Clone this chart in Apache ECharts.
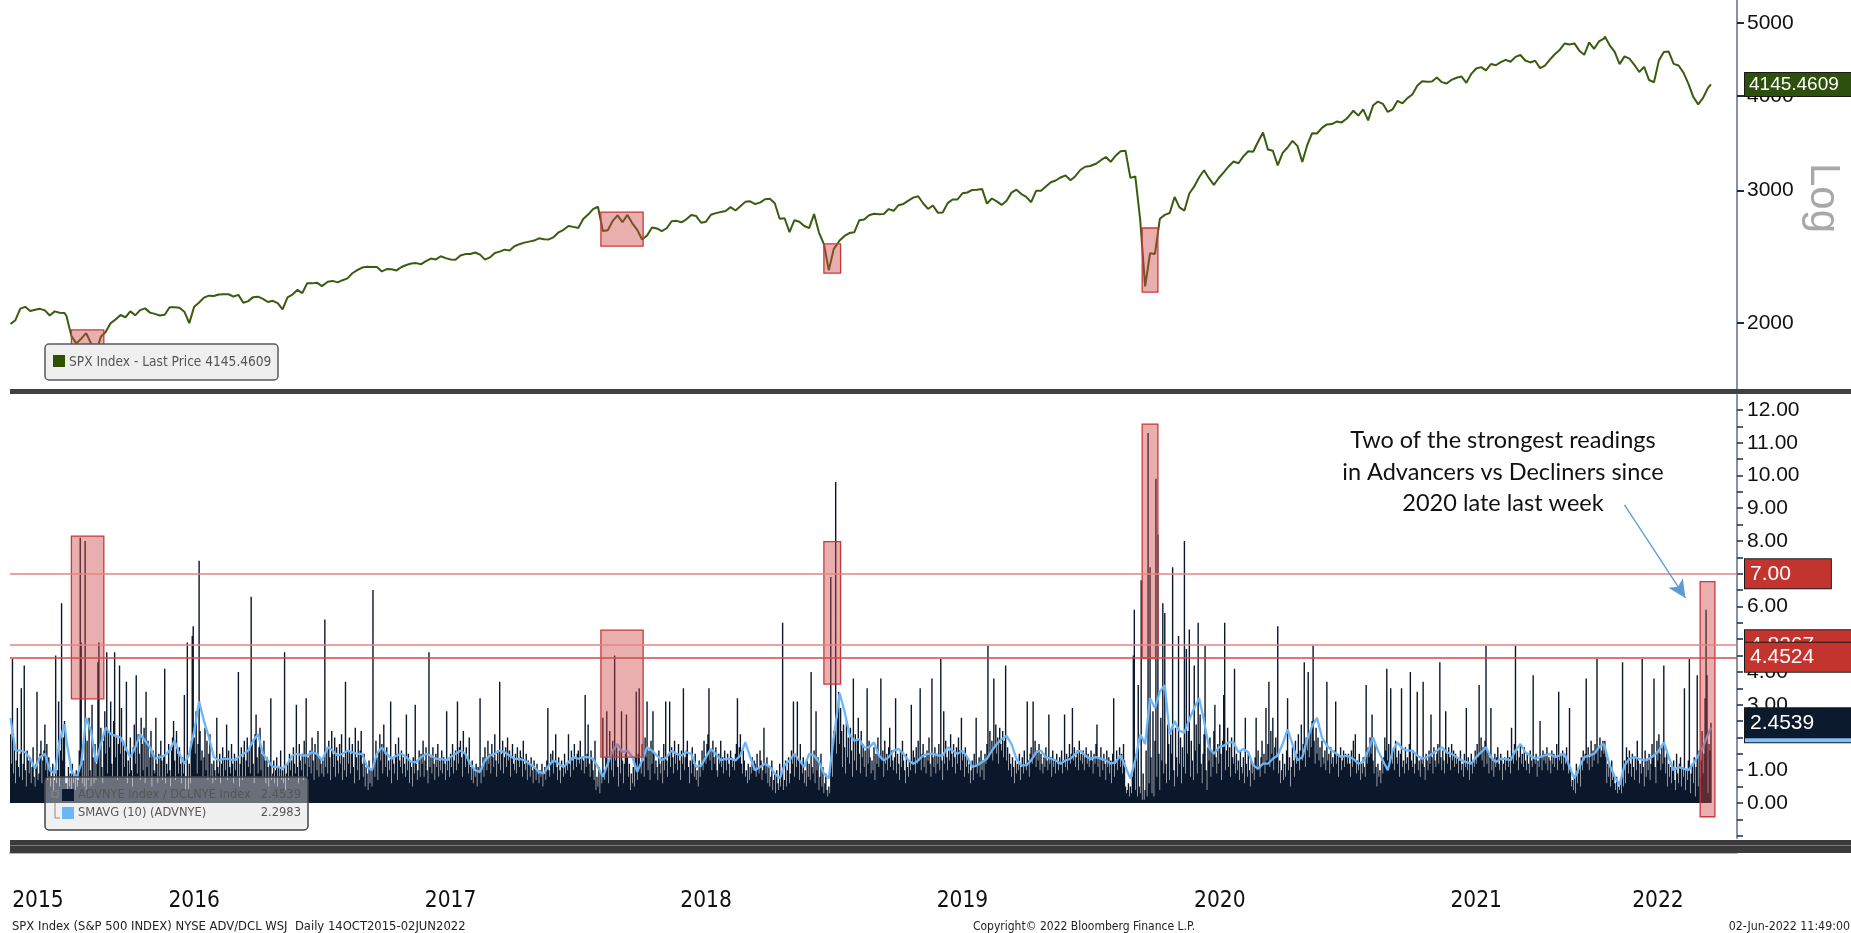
<!DOCTYPE html>
<html><head><meta charset="utf-8">
<script src="https://cdn.jsdelivr.net/npm/echarts@6.0.0/dist/echarts.min.js"></script>
<style>html,body{margin:0;padding:0;background:#fff;overflow:hidden}#c{width:1851px;height:933px}</style>
</head><body><div id="c"></div>
<script>
// ---------------- DATA ----------------
const years = [2015, 2016, 2017, 2018, 2019, 2020, 2021, 2022];
// NYSE advancers / decliners ratio, one value per weekday (2015 starts 14-Oct-2015)
const adv2015 = [2.1,1.2,4.4,0.9,1.8,0.6,1.3,2.9,1.1,0.8, 1.5,3.5,0.7,1.2,4.2,1.0,0.5,1.6,1.3,0.9, 1.4,0.6,1.1,1.7,0.8,0.5,1.2,3.4,0.7,0.9, 1.5,1.9,0.6,1.3,1.6,2.4,1.0,1.8,0.7,1.4, 1.1,0.5,0.8,1.2,0.4,0.7,4.5,0.6,1.0,3.1, 0.5,1.6,6.1,1.3,2.0,2.5,0.6];
const adv2016 = [0.6,0.4,1.1,0.5,0.9,0.3,1.2,0.6,0.8,0.4, 1.0,0.5,0.7,1.6,8.1,4.9,0.6,1.3,0.5,8.0, 0.4,1.9,0.7,2.6,1.0,0.5,3.0,1.4,0.6,1.8, 0.7,1.2,4.3,4.9,0.8,2.3,1.1,0.6,1.9,2.8, 1.5,4.6,0.9,2.2,1.7,3.1,1.2,0.8,2.5,4.6, 1.4,2.0,0.7,1.8,4.2,1.5,2.9,0.8,1.9,1.1, 1.6,3.7,0.6,1.3,0.9,2.0,1.0,0.5,1.7,2.4, 1.2,3.9,0.9,2.1,1.5,0.7,2.6,1.8,1.0,2.3, 0.6,3.4,1.1,1.9,0.8,1.4,2.2,0.5,1.6,1.0, 0.9,2.6,1.2,0.6,1.5,0.8,1.9,1.3,0.7,1.4, 4.1,0.6,1.2,0.9,1.8,1.0,0.5,1.6,2.0,2.5, 1.3,0.7,2.2,1.5,0.9,1.7,1.2,0.6,1.4,0.9, 3.3,0.4,0.8,4.9,0.3,1.2,0.6,1.9,5.1,5.4, 2.0,1.5,2.8,0.9,1.8,7.4,2.2,1.3,1.6,0.8, 1.4,2.3,1.0,1.9,0.7,1.5,2.1,0.8,1.2,0.6, 1.3,1.0,0.7,2.6,1.1,0.9,1.5,0.6,1.2,1.7, 0.8,1.4,1.0,2.4,0.7,1.6,1.1,0.9,1.8,1.2, 0.6,1.5,1.0,1.3,0.8,4.0,0.5,1.2,1.7,0.7, 1.4,1.9,0.8,1.3,2.0,1.1,1.6,0.9,6.3,1.8, 1.2,0.6,2.1,2.7,1.4,0.9,1.7,2.3,1.0,1.5, 0.8,1.9,1.3,0.6,1.4,1.1,0.5,1.2,3.2,0.7, 0.9,1.3,0.6,1.0,1.4,0.5,1.1,0.8,1.6,0.7, 1.0,0.6,4.6,0.4,0.9,1.2,0.7,1.5,1.0,1.3, 0.8,1.7,1.2,0.9,3.0,1.1,0.6,1.8,1.3,1.0, 1.5,0.7,1.9,1.2,3.2,0.8,1.4,1.1,1.6,0.9, 2.0,1.3,0.7,1.8,1.5,1.0,2.2,0.8,1.4,1.2, 0.9];
const adv2017 = [1.3,0.8,5.6,1.1,1.6,0.9,1.9,1.4,0.7,2.2, 1.5,1.1,2.0,0.8,1.7,1.3,0.9,1.8,1.2,2.1, 0.7,1.4,1.0,3.7,0.8,1.6,1.2,2.0,0.9,1.5, 1.8,1.1,0.6,2.3,1.4,1.0,1.9,0.7,1.6,2.2, 1.2,0.8,1.5,0.5,1.1,0.9,0.4,1.3,0.6,1.0, 0.5,6.5,1.2,0.8,1.9,1.4,0.7,1.6,2.1,1.3, 1.8,0.9,2.4,1.5,1.1,1.7,0.8,1.3,1.0,3.1, 0.6,1.4,1.2,0.9,1.8,1.5,0.7,2.0,1.3,1.1, 1.6,0.9,1.4,1.2,0.8,2.7,1.0,1.5,0.6,1.3, 1.1,0.5,1.4,0.9,3.0,1.2,0.7,1.0,1.6,0.8, 1.5,1.2,1.9,0.8,1.3,1.7,1.0,0.6,4.6,1.1, 1.4,0.9,1.7,1.2,0.7,1.5,1.1,1.8,0.8,1.3, 1.0,1.6,0.9,1.4,1.2,0.7,2.8,1.0,1.3,0.8, 1.5,1.1,1.8,0.9,1.3,1.6,1.0,3.1,1.2,1.7, 1.9,1.4,0.8,2.2,1.5,1.1,1.7,1.3,0.9,2.0, 1.1,0.7,1.3,0.6,1.0,0.8,1.2,0.5,1.1,0.9, 3.2,0.6,1.0,1.4,0.8,1.7,1.3,1.0,1.9,1.2, 1.5,0.9,1.8,1.4,1.1,2.1,1.3,0.8,1.6,1.2, 3.7,1.0,1.5,1.9,0.9,1.4,1.7,1.1,2.0,1.3, 1.6,0.8,1.4,1.8,1.2,1.0,1.5,0.9,1.7,1.3, 1.1,1.6,1.4,0.8,1.9,1.2,1.0,1.5,0.7,1.3, 1.2,0.8,1.4,1.0,0.6,1.3,1.1,0.7,1.2,0.9, 0.6,1.0,0.8,1.2,0.5,0.9,1.1,0.7,1.3,2.9, 1.0,0.8,1.5,1.2,1.6,0.9,1.3,2.1,1.1,0.7, 1.4,1.0,0.6,1.3,1.1,0.8,1.5,0.9,1.2,1.0, 2.1,1.2,0.8,1.6,1.3,1.0,1.8,1.4,1.1,1.5];
const adv2018 = [1.6,1.2,1.9,1.0,1.4,1.3,0.9,3.3,1.1,1.5, 2.4,1.2,0.8,1.6,1.3,1.0,0.7,1.9,0.4,0.8, 0.5,1.1,0.3,0.9,0.6,2.6,1.0,0.7,1.4,2.8, 1.2,0.6,2.2,1.5,1.0,1.9,0.8,4.5,1.3,1.7, 1.1,0.5,1.6,0.9,2.8,1.3,0.6,1.2,1.5,2.7, 1.4,0.8,1.2,0.4,0.9,0.6,1.1,0.5,1.4,3.4, 0.7,1.5,3.5,1.2,0.9,1.8,1.3,0.8,2.0,1.4, 3.1,1.0,1.6,0.7,1.9,1.2,2.8,1.5,0.9,1.3, 1.1,0.7,1.6,1.2,0.9,1.4,0.6,1.8,1.0,3.1, 1.3,0.8,1.5,3.1,1.1,1.7,1.4,0.9,1.9,1.2, 1.5,1.0,1.8,1.3,0.7,1.6,1.2,3.5,1.0,1.4, 1.6,1.9,1.1,0.6,1.3,0.9,1.7,1.2,0.8,1.5, 0.7,1.0,0.5,1.3,0.8,1.1,1.6,1.0,1.9,1.4, 1.2,1.8,2.1,3.5,1.3,1.6,1.0,1.9,1.4,1.2, 1.7,1.0,0.8,1.5,1.2,1.9,1.1,1.4,0.9,1.6, 1.3,1.0,1.5,1.2,0.8,1.6,1.4,1.1,1.3,1.0, 1.5,1.8,3.2,1.4,1.7,2.1,1.2,0.9,1.6,1.3, 0.8,1.0,0.6,1.2,0.7,1.1,0.9,1.4,1.0,1.3, 1.2,0.8,1.5,1.1,0.9,1.6,1.3,0.7,1.0,2.3, 1.2,0.9,1.4,0.6,1.1,0.5,0.8,1.3,0.4,0.7, 0.9,0.3,1.0,0.6,0.4,1.2,0.5,0.8,5.5,0.4, 0.7,1.3,0.5,1.0,1.4,0.6,0.9,1.6,1.2,3.1, 0.8,1.5,1.1,3.1,1.3,0.7,1.8,1.2,0.9,1.4, 0.6,1.0,0.5,1.3,0.8,1.2,0.7,4.0,1.1,0.9, 1.6,0.6,2.8,1.0,1.4,0.4,0.8,1.5,0.5,1.1, 0.3,0.6,0.9,0.4,0.2,0.5,0.3,6.9,1.5,0.8, 2.2];
const adv2019 = [2.1,9.8,1.5,2.6,3.4,1.8,2.9,2.2,1.1,2.4, 1.7,0.9,2.5,1.4,2.0,1.2,2.3,1.6,0.8,3.8, 1.3,2.1,1.0,1.9,2.6,1.5,0.9,2.2,1.4,1.8, 1.1,1.6,0.8,3.5,1.2,1.9,1.4,0.9,1.3,1.0, 1.7,0.7,1.5,1.2,2.0,1.1,1.4,3.8,1.3,1.6, 0.8,1.9,1.2,1.5,1.0,1.7,2.3,1.1,1.6,1.3, 1.0,1.4,3.2,0.9,1.5,1.2,0.7,1.6,1.1,1.9, 1.3,1.0,0.6,1.5,1.1,0.8,1.3,1.0,3.0,1.2, 1.6,1.4,0.9,1.7,1.2,1.9,1.3,3.5,1.0,1.5, 1.8,1.1,1.4,0.9,1.6,1.3,2.0,1.2,0.8,3.8, 1.4,1.1,1.7,0.9,1.5,1.2,1.8,1.0,4.4,1.3, 0.7,2.8,1.2,1.9,1.4,1.0,1.6,1.3,2.1,1.5, 1.1,1.8,1.4,0.9,1.7,1.2,2.0,1.6,1.0,2.6, 1.3,1.5,0.8,1.7,1.1,1.4,0.9,1.2,0.6,1.0, 1.3,0.7,1.5,1.1,2.6,0.9,1.2,1.4,0.8,1.6, 1.0,1.3,0.7,1.5,1.2,1.8,4.8,1.4,2.2,1.6, 1.9,1.3,3.8,1.7,2.4,1.5,2.0,1.2,2.3,1.8, 1.6,2.2,1.4,1.9,4.2,1.3,1.7,1.0,1.5,1.2, 0.8,1.4,1.1,0.6,1.3,0.9,1.2,1.0,1.5,0.7, 1.1,1.4,0.9,1.6,1.2,1.0,3.1,1.3,0.8,1.5, 1.7,1.2,3.1,1.4,1.9,1.1,1.6,1.3,1.8,1.0, 1.5,1.2,0.9,1.4,1.1,1.7,1.3,1.0,2.7,1.2, 1.4,0.8,1.6,1.1,1.3,0.9,1.5,1.2,1.0,1.4, 1.2,1.6,0.9,1.3,2.7,1.1,1.5,1.0,1.4,1.8, 1.2,1.5,2.9,1.3,1.7,1.1,1.4,1.6,1.0,1.9, 1.3,1.5,1.2,1.6,1.0,1.4,1.7,1.2,1.5,1.1, 1.3];
const adv2020 = [1.6,1.3,0.9,1.5,1.2,1.8,2.4,1.1,1.4,0.8, 1.7,1.3,1.0,1.5,1.2,0.7,1.6,1.1,1.4,0.9, 1.3,0.6,1.5,3.2,0.8,1.2,1.6,1.0,1.4,1.7, 1.1,1.5,0.9,1.8,1.3,0.5,0.3,0.4,0.6,0.2, 0.5,0.3,0.8,4.5,5.9,0.4,1.5,0.2,3.6,0.5, 0.3,6.8,0.1,0.9,0.1,0.4,1.6,0.2,11.3,0.6, 7.2,1.4,0.3,2.8,0.2,1.9,9.9,0.8,8.2,1.5, 0.4,2.6,1.3,6.1,0.9,5.8,1.2,0.6,2.4,1.8, 0.7,2.1,1.5,7.2,1.0,0.5,2.3,1.4,0.8,5.1, 1.2,2.0,0.6,1.7,1.1,8.0,0.9,4.7,1.5,2.2, 5.3,0.8,1.9,1.3,0.7,4.2,1.6,2.4,0.9,5.5, 1.8,2.7,1.2,0.6,1.5,2.1,4.8,1.0,0.4,1.7, 1.3,2.0,0.8,1.6,1.1,2.2,3.0,1.4,0.9,1.8, 1.2,2.4,1.5,0.7,1.9,3.3,5.5,1.0,1.6,2.3, 1.1,1.7,0.8,2.0,1.4,1.2,4.1,0.9,1.5,1.0, 1.3,0.7,1.6,1.1,0.9,1.4,0.6,2.6,1.2,0.8, 1.5,1.0,0.5,1.3,0.9,1.2,0.7,1.4,2.6,1.0, 1.6,1.1,0.8,1.4,1.9,1.2,1.5,0.9,2.9,1.3, 1.8,3.7,1.1,2.2,1.5,2.6,1.0,1.7,2.0,1.4, 5.4,0.9,1.3,0.6,1.0,1.5,0.7,1.2,0.8,1.6, 3.2,1.0,1.4,0.5,1.1,1.7,1.3,0.8,1.9,1.2, 1.5,2.1,1.0,1.6,2.4,1.3,1.8,4.3,1.1,2.0, 1.6,4.0,1.4,2.2,1.7,2.5,4.8,1.9,1.2,2.3, 1.5,2.0,1.3,1.7,1.1,1.9,1.4,1.2,1.6,1.0, 3.7,1.3,1.5,0.9,1.7,1.2,1.4,1.1,1.6,3.1, 1.2,1.5,0.8,1.4,1.7,1.0,1.3,1.6,1.1,1.5, 1.4,1.2];
const adv2021 = [1.5,1.2,0.8,1.6,1.1,1.9,1.4,2.1,0.9,1.3, 1.0,1.5,0.7,1.2,0.9,1.4,1.1,0.8,3.6,1.2, 1.7,1.4,2.0,1.5,2.7,1.3,0.9,1.8,1.1,0.5, 1.2,0.8,1.0,0.6,1.3,0.9,1.4,2.0,1.6,4.1, 1.3,1.8,1.1,3.5,1.5,1.2,1.7,1.0,1.9,1.4, 1.2,1.6,0.8,1.5,3.5,1.1,1.3,0.9,1.7,1.2, 1.4,1.0,1.8,4.0,1.3,1.1,1.6,0.9,1.2,1.5, 3.4,1.0,1.3,0.8,1.4,1.2,3.7,1.1,0.7,1.5, 1.3,1.0,1.6,1.2,2.7,1.4,0.9,1.7,1.3,1.1, 1.5,1.8,1.2,4.3,1.4,1.0,1.6,1.3,0.9,2.8, 1.5,1.2,1.7,1.4,1.0,1.8,1.3,1.6,1.1,1.5, 1.2,1.4,0.9,1.3,1.6,1.0,1.2,0.8,1.5,1.1, 2.9,1.0,1.4,0.7,1.2,1.5,0.9,1.3,1.1,1.6, 1.2,1.8,1.4,3.6,1.5,2.0,1.3,1.7,1.1,1.9, 4.8,1.2,1.6,0.9,1.4,2.9,1.0,1.3,0.8,1.5, 1.1,1.4,1.7,1.2,1.0,1.5,1.3,0.7,1.2,1.4, 1.0,1.3,1.6,1.1,1.4,0.9,2.3,1.5,1.2,1.8, 4.8,1.3,1.6,1.0,1.4,1.8,1.2,1.5,1.1,1.7, 1.3,1.0,1.5,1.2,0.9,1.6,1.3,1.1,3.9,1.4, 1.2,1.5,0.8,1.3,1.1,2.5,1.4,1.0,1.6,1.3, 1.5,1.2,1.7,1.0,1.4,1.3,0.9,1.6,1.2,1.5, 1.1,1.4,1.8,1.0,3.4,1.3,1.5,1.2,1.6,1.0, 1.4,1.2,1.7,1.3,0.9,2.9,1.1,0.5,0.7,0.4, 0.8,0.3,1.2,0.6,0.9,1.1,0.5,1.4,1.0,1.6, 1.3,1.5,3.8,1.2,1.7,1.0,1.4,1.9,1.1,1.6, 1.3,1.8,1.5,4.4,1.2,1.7,2.0,1.4,1.6,1.9, 1.5];
const adv2022 = [1.9,1.4,0.6,1.2,0.8,1.1,0.5,1.3,0.7,0.9, 0.6,0.4,0.8,0.3,0.5,0.4,0.7,0.3,4.3,0.5, 1.3,0.6,1.7,1.4,0.9,1.6,1.2,0.8,1.5,1.1, 0.7,1.4,1.0,1.9,1.3,0.6,1.2,0.9,4.4,1.1, 0.5,1.6,0.8,1.3,1.0,1.5,0.7,1.2,1.8,1.4, 3.8,1.1,0.6,1.9,1.3,2.1,1.5,1.0,1.7,1.2, 4.2,1.4,0.9,1.6,0.5,1.2,0.8,1.1,0.6,1.0, 1.3,0.7,0.4,1.5,0.9,0.6,1.2,1.4,0.5,1.1, 0.8,3.5,0.4,1.0,0.7,1.3,4.4,0.3,0.9,1.2, 0.6,1.4,0.2,1.1,3.9,0.5,1.6,0.8,1.3,2.2, 0.9,1.5,3.2,5.9,3.9,0.3,1.8,1.6,2.4539];
// SMAVG(10) of the ratio, read weekly (every 5th weekday from the start of each year)
const sma2015 = [2.6,1.6,1.6,1.55,1.35,1.05,1.4,1.5,1.0,0.9,1.9,2.4];
const sma2016 = [1.9,1.0,0.75,1.2,2.6,2.2,1.25,1.8,2.3,2.1,2.05,2.0,1.7,1.4,1.7,2.1,1.9,1.7,1.35,1.4,1.45,1.6,1.9,1.5,1.2,1.5,2.2,3.1,2.5,2.0,1.4,1.3,1.35,1.35,1.3,1.4,1.5,1.6,1.9,2.1,1.5,1.3,1.1,1.1,1.05,1.2,1.45,1.5,1.45,1.45,1.55,1.5,1.3];
const sma2017 = [1.25,1.7,1.6,1.45,1.5,1.6,1.55,1.5,1.5,1.1,1.0,1.5,1.7,1.5,1.35,1.45,1.5,1.4,1.25,1.25,1.4,1.5,1.45,1.35,1.35,1.3,1.4,1.5,1.6,1.5,1.2,1.0,0.95,1.3,1.45,1.5,1.6,1.55,1.45,1.35,1.35,1.3,1.2,1.1,0.95,0.9,1.15,1.3,1.2,1.1,1.25,1.4];
const sma2018 = [1.35,1.4,1.4,1.35,1.1,0.8,1.2,1.6,1.8,1.55,1.6,1.4,0.95,1.3,1.7,1.6,1.45,1.3,1.4,1.6,1.5,1.45,1.55,1.5,1.1,1.15,1.4,1.65,1.5,1.3,1.35,1.35,1.3,1.45,1.85,1.4,1.0,1.1,1.2,1.1,0.9,0.75,1.15,1.3,1.5,1.3,1.1,1.5,1.45,1.25,0.9,0.75,2.0];
const sma2019 = [2.2,3.35,2.8,2.1,1.9,1.95,1.7,1.7,1.85,1.45,1.3,1.4,1.6,1.65,1.5,1.3,1.2,1.3,1.45,1.5,1.5,1.45,1.45,1.7,1.6,1.5,1.6,1.4,1.1,1.15,1.25,1.35,1.6,1.8,1.95,2.05,1.8,1.35,1.15,1.15,1.3,1.55,1.6,1.4,1.35,1.3,1.2,1.3,1.35,1.5,1.6,1.45,1.35];
const sma2020 = [1.35,1.4,1.35,1.3,1.2,1.25,1.45,1.1,0.75,1.3,2.1,1.8,3.2,2.9,3.4,3.6,2.1,2.5,2.2,2.15,2.55,2.9,3.2,2.5,1.7,1.5,1.7,1.75,1.85,1.85,1.55,1.65,1.55,1.15,1.05,1.2,1.2,1.35,1.45,1.8,2.25,1.8,1.3,1.4,1.95,2.35,2.6,2.0,1.75,1.6,1.5,1.4,1.45];
const sma2021 = [1.45,1.35,1.2,1.25,1.6,2.0,1.6,1.3,1.0,1.6,1.85,1.65,1.6,1.6,1.45,1.35,1.4,1.5,1.6,1.7,1.55,1.5,1.4,1.3,1.25,1.2,1.4,1.55,1.7,1.4,1.25,1.35,1.35,1.3,1.6,1.8,1.55,1.45,1.35,1.4,1.45,1.5,1.4,1.45,1.5,1.1,0.75,1.1,1.4,1.45,1.5,1.7,1.8];
const sma2022 = [1.75,1.15,0.8,0.55,1.15,1.35,1.4,1.35,1.3,1.35,1.45,1.6,1.85,1.4,1.0,1.1,1.05,1.0,1.2,1.45,1.7,2.1];
const smaLast = 2.2983;
const advLast = 2.4539;
// SPX Index, weekly (every 5th weekday from the start of each year)
const spx2015 = [1994,2018,2090,2102,2075,2083,2089,2079,2047,2073,2064,2063];
const spx2016 = [2044,1922,1880,1907,1940,1880,1829,1918,1948,2000,2022,2050,2036,2073,2048,2081,2092,2065,2057,2047,2052,2099,2099,2096,2071,2000,2103,2130,2162,2175,2173,2183,2184,2184,2169,2180,2128,2139,2165,2168,2153,2133,2141,2126,2085,2164,2182,2213,2192,2259,2258,2263,2239];
const spx2017 = [2239,2269,2275,2265,2280,2293,2329,2351,2370,2375,2373,2374,2342,2359,2357,2349,2374,2388,2399,2402,2394,2416,2436,2429,2453,2439,2429,2427,2459,2469,2470,2481,2465,2428,2444,2477,2488,2503,2497,2529,2545,2557,2565,2573,2591,2584,2582,2601,2639,2659,2690,2683];
const spx2018 = [2674,2748,2786,2833,2853,2649,2656,2732,2779,2721,2783,2712,2658,2582,2613,2678,2670,2648,2672,2730,2733,2721,2746,2782,2773,2717,2726,2784,2798,2807,2817,2850,2821,2857,2896,2901,2877,2889,2919,2924,2884,2750,2755,2641,2738,2726,2690,2673,2790,2637,2546,2351,2507];
const spx2019 = [2507,2574,2610,2633,2640,2737,2744,2780,2793,2789,2791,2833,2818,2867,2878,2907,2934,2946,2884,2834,2864,2802,2803,2885,2917,2917,2973,2980,3004,3005,3013,2881,2926,2900,2869,2906,2979,3006,2966,2940,2893,2995,2996,3036,3075,3091,3120,3140,3093,3132,3192,3224,3231];
const spx2020 = [3231,3253,3289,3321,3273,3334,3379,3386,3116,3130,2741,2237,2475,2470,2750,2783,2799,2939,2848,2820,2971,3036,3122,3190,3113,3050,3115,3169,3227,3276,3258,3328,3380,3375,3479,3580,3399,3385,3237,3363,3419,3489,3436,3271,3443,3572,3568,3630,3669,3672,3701,3691,3732];
const spx2021 = [3756,3825,3768,3841,3714,3886,3934,3907,3811,3842,3943,3913,3975,4020,4129,4185,4180,4181,4233,4174,4156,4204,4230,4247,4166,4281,4352,4370,4327,4412,4395,4437,4468,4442,4509,4535,4459,4433,4455,4357,4391,4471,4545,4605,4697,4683,4698,4595,4538,4712,4620,4726,4766];
const spx2022 = [4797,4670,4577,4410,4516,4484,4401,4305,4374,4201,4173,4461,4576,4583,4413,4391,4297,4155,3991,3900,3979,4101];
const spxLast = 4145.4609;
// axis ticks and reference levels
const yTicksTop = [2000, 3000, 4000, 5000];
const yTicksBottom = [0,1,2,3,4,5,6,7,8,9,10,11,12];
const levels = [7.00, 4.8267, 4.4524];
// highlighted boxes: [from, to, low, high]
const topBoxes = [['2016-01-08','2016-02-24',1798,1959],['2018-02-01','2018-04-03',2530,2807],['2018-12-17','2019-01-09',2330,2547],['2020-03-13','2020-04-06',2199,2674]];
const bottomBoxes = [['2016-01-08','2016-02-24',3.18,8.15],['2018-02-01','2018-04-03',1.4,5.28],['2018-12-17','2019-01-09',3.63,7.98],['2020-03-13','2020-04-06',4.42,11.57],['2022-05-18','2022-06-08',-0.42,6.76]];
const arrowFrom = ['2022-01-31', 9.1];
const arrowTo = ['2022-04-27', 6.26];

// ---------------- BUILD ----------------
const advBy = {2015:adv2015,2016:adv2016,2017:adv2017,2018:adv2018,2019:adv2019,2020:adv2020,2021:adv2021,2022:adv2022};
const smaBy = {2015:sma2015,2016:sma2016,2017:sma2017,2018:sma2018,2019:sma2019,2020:sma2020,2021:sma2021,2022:sma2022};
const spxBy = {2015:spx2015,2016:spx2016,2017:spx2017,2018:spx2018,2019:spx2019,2020:spx2020,2021:spx2021,2022:spx2022};
function ymd(d){return d.getUTCFullYear()+'-'+String(d.getUTCMonth()+1).padStart(2,'0')+'-'+String(d.getUTCDate()).padStart(2,'0');}
const cats = []; const yearStart = {}; const quarterSet = new Set(); const yearSet = new Set();
let lastMonth = -1;
for (let t = Date.UTC(2015,9,14); t <= Date.UTC(2022,6,8); t += 86400000) {
  const d = new Date(t); const wd = d.getUTCDay();
  if (wd === 0 || wd === 6) continue;
  const y = d.getUTCFullYear(), m = d.getUTCMonth();
  if (!(y in yearStart)) { yearStart[y] = cats.length; if (y > 2015) yearSet.add(cats.length); }
  if (m !== lastMonth) { if (m % 3 === 0 && m !== 0) quarterSet.add(cats.length); lastMonth = m; }
  cats.push(ymd(d));
}
const N = cats.length;
const adv = new Array(N).fill(null), sma = new Array(N).fill(null), spx = new Array(N).fill(null);
years.forEach(y => {
  const s = yearStart[y]; const e = (yearStart[y+1] !== undefined) ? yearStart[y+1] : N;
  advBy[y].forEach((v,j) => { if (s+j < e) adv[s+j] = v; });
  smaBy[y].forEach((v,k) => { if (s+5*k < e) sma[s+5*k] = v; });
  spxBy[y].forEach((v,k) => { if (s+5*k < e) spx[s+5*k] = v; });
});
const lastIdx = yearStart[2022] + adv2022.length - 1;
spx[lastIdx] = spxLast; sma[lastIdx] = smaLast;
const labelSet = new Set(years.map(y => {
  const s = yearStart[y]; const n = advBy[y].length; return s + Math.floor(n/2);
}));

const FONT = 'Liberation Sans';
const NARROW = '"DejaVu Sans Condensed", "Roboto", sans-serif';
function tag(text, bg, fs, pad, fg) {
  return {show:true, position:'end', distance:8, formatter:text, backgroundColor:bg, color:fg||'#fff', opacity:1,
    fontSize:fs, fontFamily:FONT, padding:pad, borderColor:'#1a1a1a', borderWidth:1, lineHeight:fs+1};
}
const hidden = {color:'rgba(0,0,0,0)', width:0, opacity:1};
const boxStyle = {color:'rgba(204,68,68,0.43)', borderColor:'#c83a3a', borderWidth:1.3};
function txt(x, y, text, size, fill, align, extra) {
  return Object.assign({type:'text', z:101, x:x, y:y, style:{text:text, font:size+'px '+NARROW, fill:fill,
    textAlign:align, textVerticalAlign:'middle', align:align, verticalAlign:'middle'}}, extra||{});
}

const option = {
  animation:false, backgroundColor:'#ffffff', textStyle:{fontFamily:FONT},
  grid:[{left:10,right:114,top:0,height:390},{left:10,right:114,top:395,height:443}],
  xAxis:[
    {type:'category', gridIndex:0, data:cats, show:false},
    {type:'category', gridIndex:1, data:cats, position:'bottom', offset:15,
     axisLine:{onZero:false, lineStyle:{color:'#aab7ca', width:2}},
     axisTick:{interval:(i)=>quarterSet.has(i), length:5, lineStyle:{color:'#4a5a72', width:1}},
     axisLabel:{show:false}, splitLine:{show:false}},
    {type:'category', gridIndex:1, data:cats, position:'bottom', offset:15,
     axisLine:{show:false, onZero:false},
     axisTick:{interval:(i)=>yearSet.has(i), length:62, lineStyle:{color:'#8c99ae', width:1}},
     axisLabel:{interval:(i)=>labelSet.has(i), formatter:(v)=>v.slice(0,4), fontSize:22.5, fontFamily:NARROW, color:'#111', margin:37},
     splitLine:{show:false}}
  ],
  yAxis:[
    {type:'log', logBase:10, gridIndex:0, position:'right', min:1630.5, max:5364,
     axisLine:{show:true, onZero:false, lineStyle:{color:'#8293ab', width:2}},
     axisTick:{show:true, customValues:yTicksTop, length:7, lineStyle:{color:'#1b2b45', width:2}},
     axisLabel:{customValues:yTicksTop, fontSize:21, color:'#111', margin:10, fontFamily:FONT, formatter:(v)=>String(Math.round(v))},
     splitLine:{show:false}, minorTick:{show:false}},
    {type:'value', gridIndex:1, position:'right', min:-1.069, max:12.458,
     axisLine:{show:true, onZero:false, lineStyle:{color:'#8293ab', width:2}},
     axisTick:{show:true, customValues:[-1,-0.5,0,0.5,1,1.5,2,2.5,3,3.5,4,4.5,5,5.5,6,6.5,7,7.5,8,8.5,9,9.5,10,10.5,11,11.5,12], length:6, lineStyle:{color:'#1b2b45', width:1.5}},
     axisLabel:{customValues:yTicksBottom, fontSize:21, color:'#111', margin:10, fontFamily:FONT, formatter:(v)=>Number(v).toFixed(2)},
     splitLine:{show:false}}
  ],
  series:[
    {name:'SPX', type:'line', xAxisIndex:0, yAxisIndex:0, data:spx, connectNulls:true, showSymbol:false, symbol:'none',
     lineStyle:{color:'#3a5c10', width:2}, z:3, silent:true},
    {type:'line', xAxisIndex:0, yAxisIndex:0, data:[], silent:true,
     markLine:{silent:true, symbol:'none', z:12, animation:false,
       data:[{yAxis:spxLast, lineStyle:hidden, label:tag('4145.4609','#2d500c',19,[2,40,1,4])}]}},
    {type:'line', xAxisIndex:0, yAxisIndex:0, data:[], silent:true,
     markArea:{silent:true, z:10, itemStyle:boxStyle, label:{show:false},
       data:topBoxes.map(b=>[{xAxis:b[0], yAxis:b[2]},{xAxis:b[1], yAxis:b[3]}])}},
    {name:'ADV', type:'bar', xAxisIndex:1, yAxisIndex:1, data:adv, barWidth:1.4, barGap:'0%',
     large:true, largeThreshold:100,
     itemStyle:{color:'#0b172a'}, z:2, silent:true},
    {name:'SMA', type:'line', xAxisIndex:1, yAxisIndex:1, data:sma, connectNulls:true, showSymbol:false, symbol:'none',
     lineStyle:{color:'#6cb6f8', width:2.3}, z:3, silent:true},
    {type:'line', xAxisIndex:1, yAxisIndex:1, data:[], silent:true,
     markLine:{silent:true, symbol:'none', z:14, animation:false,
       data:[{yAxis:smaLast, lineStyle:hidden, label:tag('2.2983','#7cc0ff',21,[4,40,3,5])}]}},
    {type:'line', xAxisIndex:1, yAxisIndex:1, data:[], silent:true,
     markLine:{silent:true, symbol:'none', z:15, animation:false,
       data:[{yAxis:advLast, lineStyle:hidden, label:tag('2.4539','#0b1a2d',21,[4,40,3,5])}]}},
    {type:'line', xAxisIndex:1, yAxisIndex:1, data:[], silent:true,
     markArea:{silent:true, z:10, itemStyle:boxStyle, label:{show:false},
       data:bottomBoxes.map(b=>[{xAxis:b[0], yAxis:b[2]},{xAxis:b[1], yAxis:b[3]}])}},
    {type:'line', xAxisIndex:1, yAxisIndex:1, data:[], silent:true,
     markLine:{silent:true, symbol:'none', z:12, animation:false,
       data:[
         {yAxis:levels[0], lineStyle:{color:'#e08686', width:1.5, type:'solid'}, label:tag('7.00','#c3342f',21,[4,40,3,5])},
         {yAxis:levels[1], lineStyle:{color:'#e08686', width:1.5, type:'solid'}, label:tag('4.8267','#c3342f',21,[4,40,3,5])}
       ]}},
    {type:'line', xAxisIndex:1, yAxisIndex:1, data:[], silent:true,
     markLine:{silent:true, symbol:'none', z:13, animation:false,
       data:[{yAxis:levels[2], lineStyle:{color:'#d24a4a', width:1.5, type:'solid'}, label:tag('4.4524','#c3342f',21,[4,40,3,5])}]}},
    {type:'line', xAxisIndex:1, yAxisIndex:1, data:[], silent:true,
     markLine:{silent:true, z:12, animation:false, symbol:['none','arrow'], symbolSize:[13,18],
       lineStyle:{color:'#5b9bd5', width:1.3, type:'solid'}, label:{show:false},
       data:[[{coord:arrowFrom},{coord:arrowTo}]]}}
  ],
  graphic:[
    {type:'rect', z:100, shape:{x:10, y:389, width:1841, height:5}, style:{fill:'#414141'}},
    {type:'rect', z:100, shape:{x:10, y:840, width:1841, height:13}, style:{fill:'#3b3b3b'}},
    {type:'rect', z:101, shape:{x:10, y:845, width:1841, height:1}, style:{fill:'#7a7a7a'}},
    {type:'text', z:100, x:1823, y:198, rotation:-Math.PI/2,
     style:{text:'Log', font:'42px "Liberation Sans"', fill:'#a8a8a8', textAlign:'center', textVerticalAlign:'middle', align:'center', verticalAlign:'middle'}},
    {type:'rect', z:100, shape:{x:45, y:344, width:233, height:36, r:4}, style:{fill:'#efefef', stroke:'#5a5a5a', lineWidth:1.5}},
    {type:'rect', z:101, shape:{x:53, y:355, width:12, height:12}, style:{fill:'#2e5200'}},
    txt(69, 362, 'SPX Index - Last Price 4145.4609', 13.6, '#555', 'left'),
    {type:'rect', z:100, shape:{x:45, y:777, width:263, height:53, r:4}, style:{fill:'rgba(222,222,222,0.45)', stroke:'#444', lineWidth:1.5}},
    {type:'rect', z:101, shape:{x:52, y:791, width:6, height:6}, style:{fill:'none', stroke:'#8a8a8a', lineWidth:1}},
    {type:'polyline', z:101, shape:{points:[[55,803],[55,818],[60,818]]}, style:{stroke:'#8a8a8a', lineWidth:1, fill:'none'}},
    {type:'rect', z:101, shape:{x:62, y:789, width:12, height:12}, style:{fill:'#0b1a30'}},
    {type:'rect', z:101, shape:{x:62, y:807, width:12, height:12}, style:{fill:'#6cb6f8'}},
    txt(78, 795, 'ADVNYE Index / DCLNYE Index', 12.6, '#555', 'left'),
    txt(301, 795, '2.4539', 12.8, '#555', 'right'),
    txt(78, 813, 'SMAVG (10) (ADVNYE)', 12.8, '#555', 'left'),
    txt(301, 813, '2.2983', 12.8, '#555', 'right'),
    {type:'text', z:101, x:1503, y:472, style:{text:'Two of the strongest readings\nin Advancers vs Decliners since\n2020 late last week', font:'23.5px Lato', fill:'#111', lineHeight:31.6, textAlign:'center', textVerticalAlign:'middle', align:'center', verticalAlign:'middle'}},
    txt(12, 927, 'SPX Index (S&P 500 INDEX) NYSE ADV/DCL WSJ  Daily 14OCT2015-02JUN2022', 12.9, '#222', 'left'),
    txt(1084, 927, 'Copyright\u00a9 2022 Bloomberg Finance L.P.', 12, '#222', 'center'),
    txt(1850, 927, '02-Jun-2022 11:49:00', 12.3, '#222', 'right')
  ]
};
const chart = echarts.init(document.getElementById('c'), null, {renderer:'canvas'});
chart.setOption(option);
</script>
</body></html>
